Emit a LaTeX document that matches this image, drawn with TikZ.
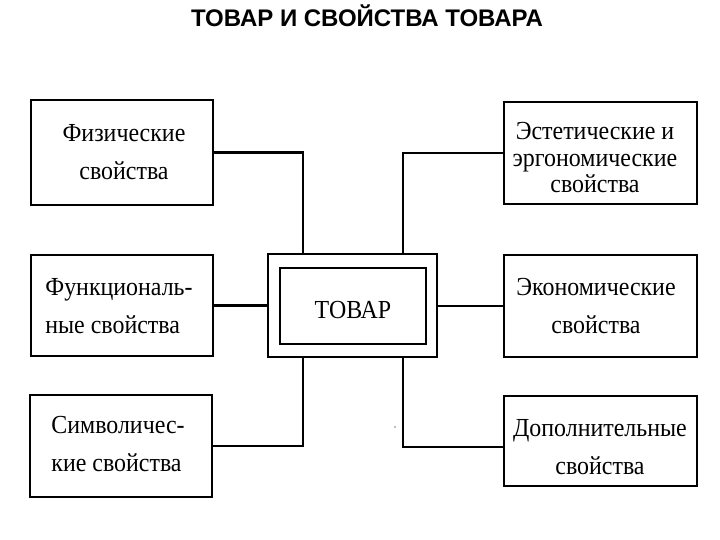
\documentclass[tikz,border=0pt]{standalone}
\usepackage{fontspec}
\setmainfont{Liberation Serif}[FakeStretch=0.92]
\newfontfamily\titlefont{Liberation Sans}
\usetikzlibrary{calc}
\tikzset{
  boxshape/.style={draw, line width=2.4pt, inner sep=0pt, rectangle},
  lbl/.style={inner sep=0pt, font=\fontsize{26}{38}\selectfont},
  conn/.style={line width=2.2pt},
}
\begin{document}
\begin{tikzpicture}[x=1pt,y=-1pt]
\useasboundingbox (0,0) rectangle (720,540);
\node[font=\titlefont\bfseries\fontsize{24}{26}\selectfont] (title) at (367,16) {ТОВАР И СВОЙСТВА ТОВАРА};

% boxes
\node[boxshape, minimum width=182pt, minimum height=105pt] (b1) at (122,152.5) {};
\node[boxshape, minimum width=182pt, minimum height=101pt] (b2) at (122,305.5) {};
\node[boxshape, minimum width=182pt, minimum height=102pt] (b3) at (121,446) {};
\node[boxshape, minimum width=193pt, minimum height=102pt] (b4) at (600.5,153) {};
\node[boxshape, minimum width=193pt, minimum height=102pt] (b5) at (600.5,306) {};
\node[boxshape, minimum width=193pt, minimum height=90pt] (b6) at (600.5,441) {};
\node[boxshape, minimum width=169pt, minimum height=103pt] (c) at (352.5,305.5) {};
\node[boxshape, minimum width=146pt, minimum height=76pt] (ci) at (353,306) {};

% texts
\node[lbl, align=center] (t1) at (124,152) {Физические\\свойства};
\node[lbl, align=left] (t2) at (119,306) {Функциональ-\\ные свойства};
\node[lbl, align=left] (t3) at (118,444) {Символичес-\\кие свойства};
\node[lbl, align=center, font=\fontsize{26}{26.5}\selectfont] (t4) at (595,158) {Эстетические и\\эргономические\\свойства};
\node[lbl, align=center] (t5) at (596,306) {Экономические\\свойства};
\node[lbl, align=center] (t6) at (600,447) {Дополнительные\\свойства};
\node[lbl] (tc) at (353,310) {ТОВАР};

% connectors
\coordinate (jl) at (303,0);
\coordinate (jr) at (403,0);
\draw[conn] (b1.east) -| (jl |- c.north);
\draw[conn] (b2.east) -- (b2.east -| c.west);
\draw[conn] (b3.east) -| (jl |- c.south);
\draw[conn] (b4.west) -| (jr |- c.north);
\draw[conn] (b5.west) -- (b5.west -| c.east);
\draw[conn] ([yshift=-6pt]b6.west) -| (jr |- c.south);

\fill[gray] (395,427) circle (0.9pt);
\end{tikzpicture}
\end{document}
